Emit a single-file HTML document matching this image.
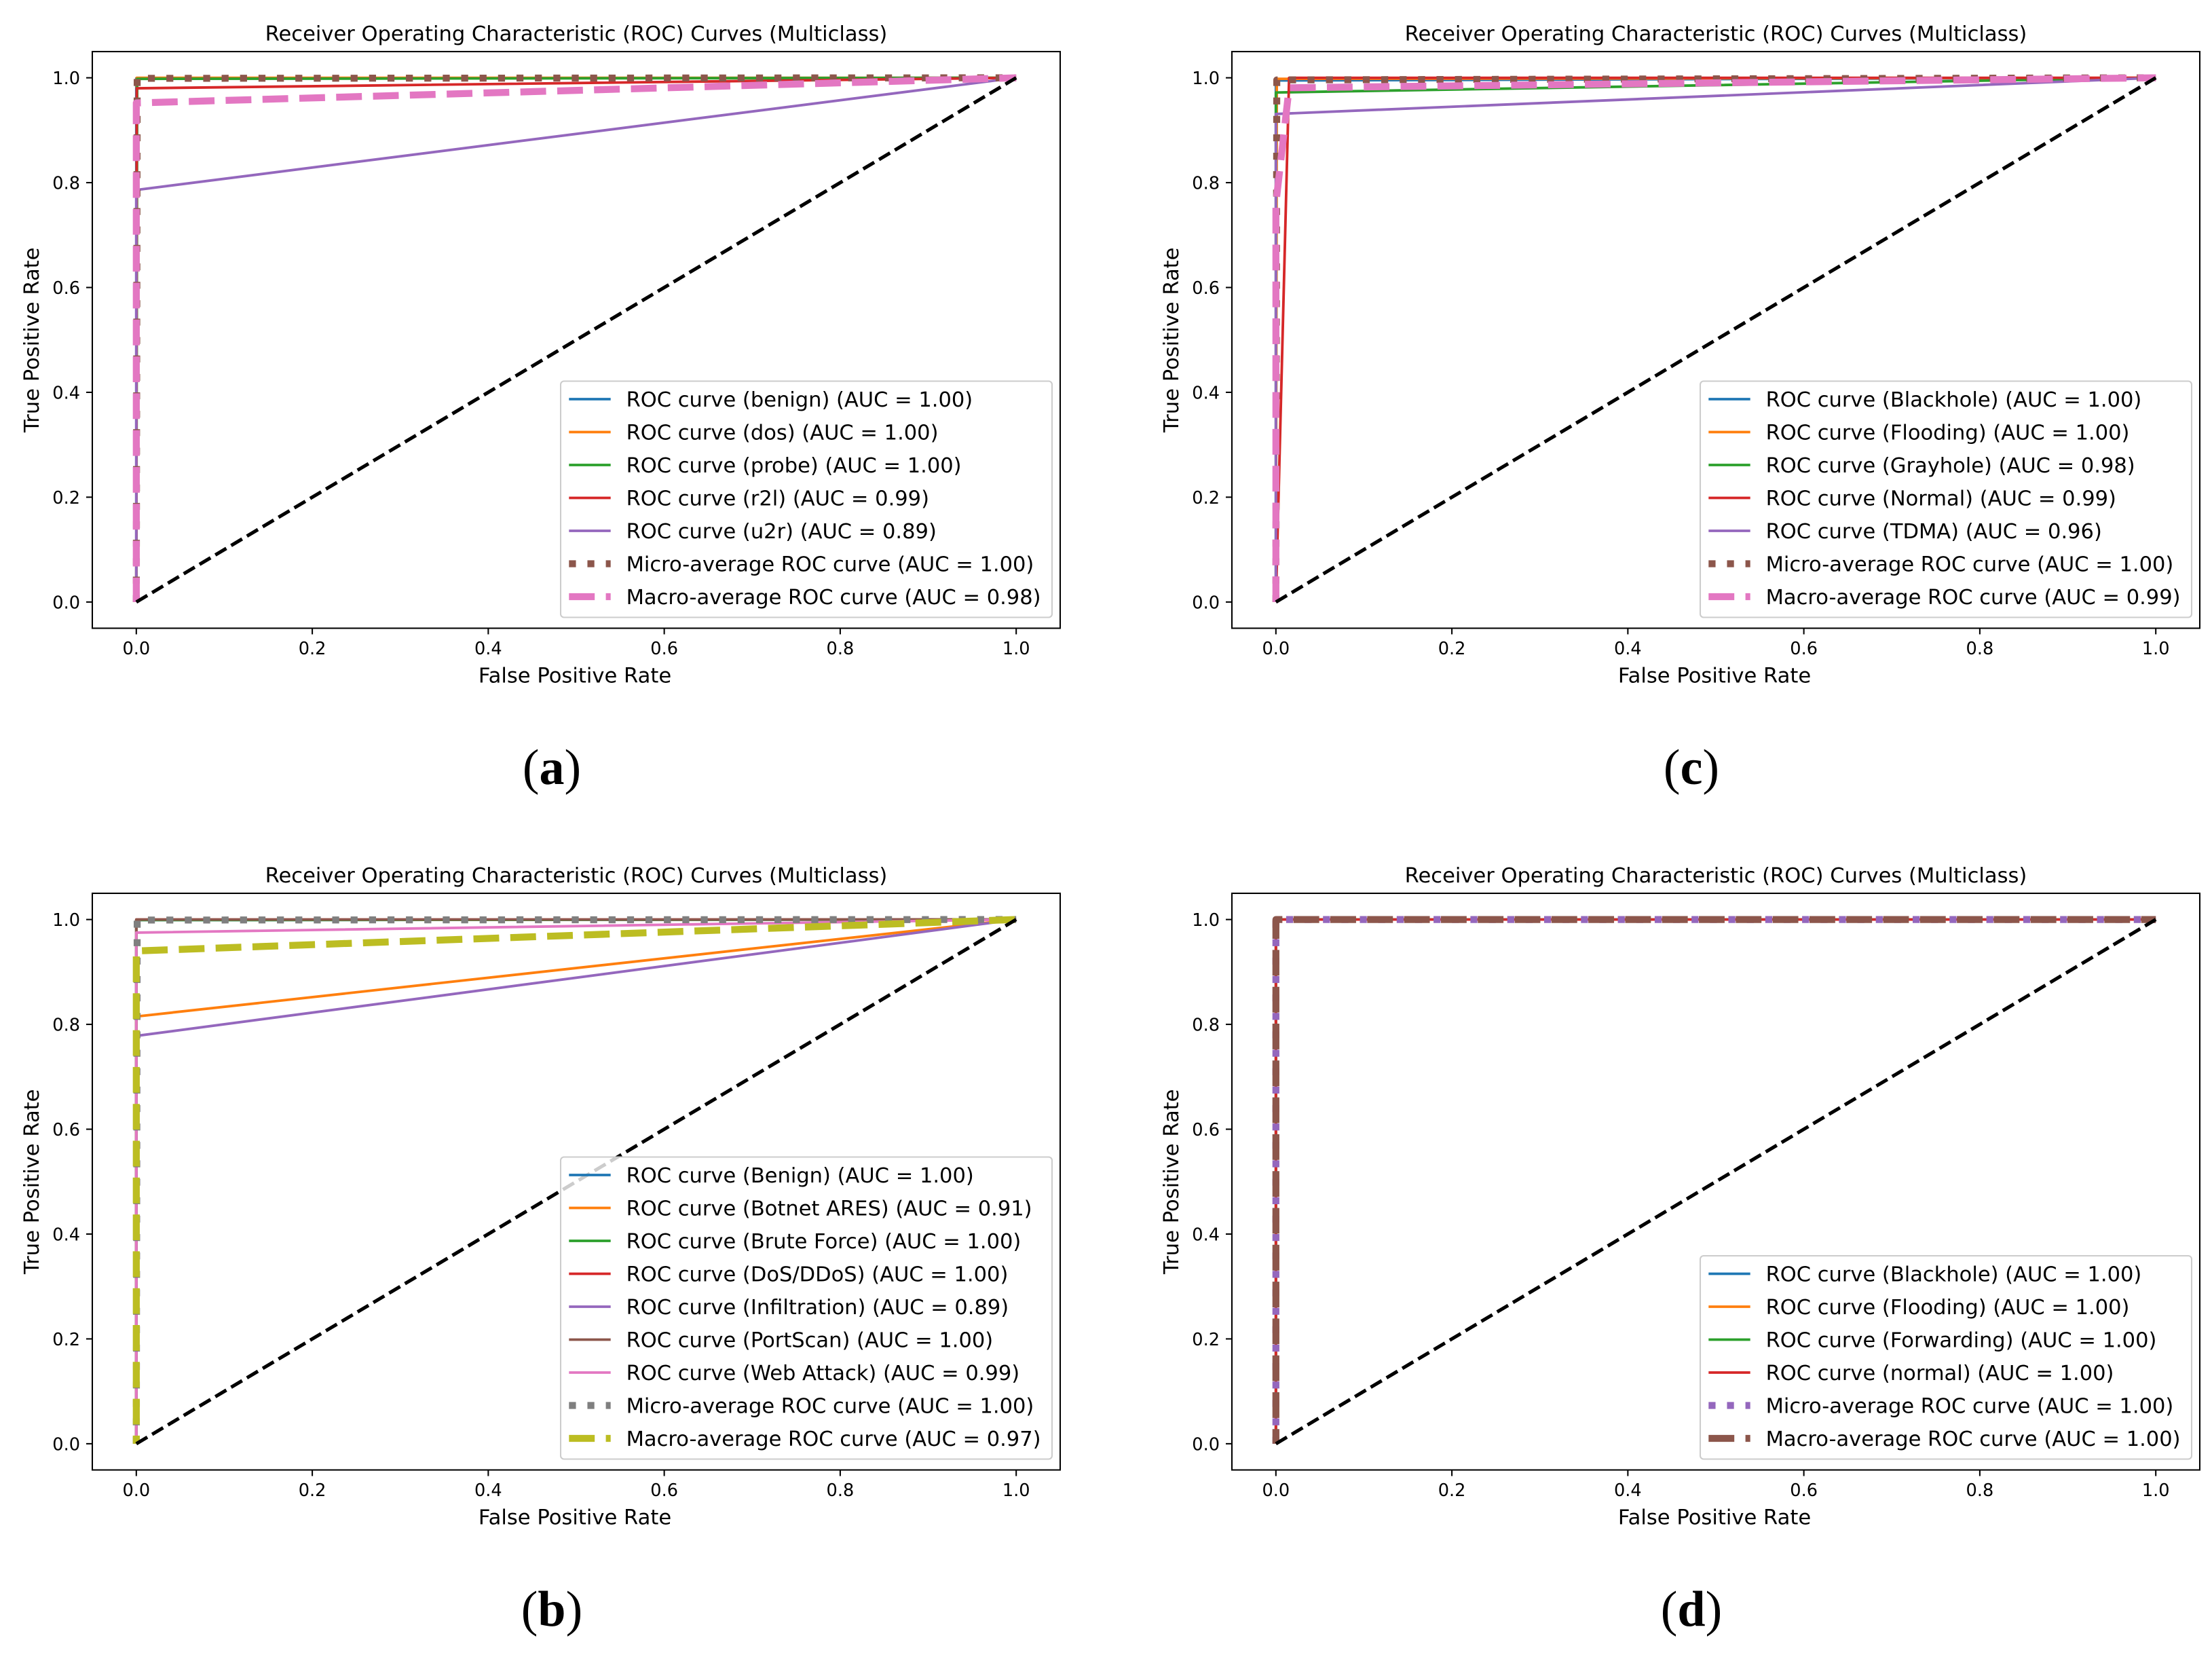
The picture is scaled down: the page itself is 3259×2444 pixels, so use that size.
<!DOCTYPE html>
<html>
<head>
<meta charset="utf-8">
<title>ROC Curves (Multiclass)</title>
<style>
html,body{margin:0;padding:0;background:#fff;}
svg{display:block;}
text{font-family:"DejaVu Sans","Liberation Sans",sans-serif;fill:#000;}
.caption{font-family:"Liberation Serif",serif;font-weight:bold;}
.paren{font-weight:normal;}
</style>
</head>
<body>
<svg id="figure" xmlns="http://www.w3.org/2000/svg" width="3259" height="2444" viewBox="0 0 3259 2444"></svg>
<script>
const xTickValues = [0, 0.2, 0.4, 0.6, 0.8, 1];
const yTickValues = [0, 0.2, 0.4, 0.6, 0.8, 1];
const xTickLabels = ["0.0", "0.2", "0.4", "0.6", "0.8", "1.0"];
const yTickLabels = ["0.0", "0.2", "0.4", "0.6", "0.8", "1.0"];
const chartTitle = "Receiver Operating Characteristic (ROC) Curves (Multiclass)";
const xAxisTitle = "False Positive Rate";
const yAxisTitle = "True Positive Rate";
const diagonalFpr = [0, 1];
const diagonalTpr = [0, 1];

const aNames = ["ROC curve (benign)", "ROC curve (dos)", "ROC curve (probe)", "ROC curve (r2l)", "ROC curve (u2r)", "Micro-average ROC curve", "Macro-average ROC curve"];
const aAuc = ["1.00", "1.00", "1.00", "0.99", "0.89", "1.00", "0.98"];
const aFpr = [[0, 0, 1], [0, 0.0005, 1], [0, 0.001, 1], [0, 0.0005, 1], [0, 0, 1], [0, 0.001, 1], [0, 0, 1]];
const aTpr = [[0, 0.999, 1], [0, 1, 1], [0, 0.998, 1], [0, 0.98, 1], [0, 0.786, 1], [0, 0.999, 1], [0, 0.952, 1]];

const bNames = ["ROC curve (Benign)", "ROC curve (Botnet ARES)", "ROC curve (Brute Force)", "ROC curve (DoS/DDoS)", "ROC curve (Infiltration)", "ROC curve (PortScan)", "ROC curve (Web Attack)", "Micro-average ROC curve", "Macro-average ROC curve"];
const bAuc = ["1.00", "0.91", "1.00", "1.00", "0.89", "1.00", "0.99", "1.00", "0.97"];
const bFpr = [[0, 0, 1], [0, 0, 1], [0, 0, 1], [0, 0, 1], [0, 0, 1], [0, 0, 1], [0, 0, 1], [0, 0.001, 1], [0, 0, 1]];
const bTpr = [[0, 0.999, 1], [0, 0.815, 1], [0, 0.999, 1], [0, 1, 1], [0, 0.778, 1], [0, 1, 1], [0, 0.975, 1], [0, 0.999, 1], [0, 0.94, 1]];

const cNames = ["ROC curve (Blackhole)", "ROC curve (Flooding)", "ROC curve (Grayhole)", "ROC curve (Normal)", "ROC curve (TDMA)", "Micro-average ROC curve", "Macro-average ROC curve"];
const cAuc = ["1.00", "1.00", "0.98", "0.99", "0.96", "1.00", "0.99"];
const cFpr = [[0, 0, 1], [0, 0.001, 1], [0, 0, 1], [0, 0.015, 1], [0, 0, 1], [0, 0.001, 1], [0, 0, 0.015, 1]];
const cTpr = [[0, 0.995, 1], [0, 0.998, 1], [0, 0.972, 1], [0, 1, 1], [0, 0.931, 1], [0, 0.996, 1], [0, 0.76, 0.981, 1]];

const dNames = ["ROC curve (Blackhole)", "ROC curve (Flooding)", "ROC curve (Forwarding)", "ROC curve (normal)", "Micro-average ROC curve", "Macro-average ROC curve"];
const dAuc = ["1.00", "1.00", "1.00", "1.00", "1.00", "1.00"];
const dFpr = [[0, 0, 1], [0, 0, 1], [0, 0, 1], [0, 0, 1], [0, 0, 1], [0, 0, 1]];
const dTpr = [[0, 1, 1], [0, 1, 1], [0, 1, 1], [0, 1, 1], [0, 1, 1], [0, 1, 1]];

const palette = ["#1f77b4", "#ff7f0e", "#2ca02c", "#d62728", "#9467bd", "#8c564b", "#e377c2", "#7f7f7f", "#bcbd22"];
const svgNS = "http://www.w3.org/2000/svg";
const figure = document.getElementById("figure");

function make(parent, tag, attrs, text) {
  const el = document.createElementNS(svgNS, tag);
  for (const k in attrs) el.setAttribute(k, attrs[k]);
  if (text !== undefined) el.textContent = text;
  parent.appendChild(el);
  return el;
}

function drawPanel(key, left, top, names, auc, fprs, tprs, caption, macroPhase) {
  const width = 1426, height = 849.5;
  const xScale = v => left + width * (0.05 + v) / 1.1;
  const yScale = v => top + height - height * (0.05 + v) / 1.1;
  const g = make(figure, "g", {});
  
  

  const dashFor = name => name.startsWith("Micro") ? "10.25 16.9" : name.startsWith("Macro") ? "37.9 16.4" : "none";
  const widthFor = name => /^(Micro|Macro)/.test(name) ? 10.25 : 3.84;

  const clip = make(g, "g", {});
  
  

  names.forEach((name, i) => {
    const pts = fprs[i].map((f, j) => xScale(f).toFixed(2) + "," + yScale(tprs[i][j]).toFixed(2)).join(" ");
    const line = make(clip, "polyline", {points: pts, fill: "none", stroke: palette[i], "stroke-width": widthFor(name), "stroke-dasharray": dashFor(name), "stroke-dashoffset": name.startsWith("Macro") ? macroPhase : 0, "stroke-linejoin": "round"});
    
    
  });

  const diagPts = diagonalFpr.map((f, j) => xScale(f).toFixed(2) + "," + yScale(diagonalTpr[j]).toFixed(2)).join(" ");
  const diag = make(clip, "polyline", {points: diagPts, fill: "none", stroke: "#000", "stroke-width": 5.12, "stroke-dasharray": "18.9 8.2"});
  
  

  const frame = make(g, "rect", {x: left, y: top, width: width, height: height, fill: "none", stroke: "#000", "stroke-width": 2.05});
  
  

  xTickValues.forEach((v, i) => {
    const px = xScale(v);
    const tick = make(g, "line", {x1: px, x2: px, y1: top + height, y2: top + height + 9, stroke: "#000", "stroke-width": 2.05});
    
    
    const label = make(g, "text", {x: px, y: top + height + 38.5, "text-anchor": "middle", "font-size": 25.6}, xTickLabels[i]);
    
    
  });
  yTickValues.forEach((v, i) => {
    const py = yScale(v);
    const tick = make(g, "line", {x1: left - 9, x2: left, y1: py, y2: py, stroke: "#000", "stroke-width": 2.05});
    
    
    const label = make(g, "text", {x: left - 18, y: py + 9.5, "text-anchor": "end", "font-size": 25.6}, yTickLabels[i]);
    
    
  });

  const title = make(g, "text", {x: left + width / 2, y: top - 16, "text-anchor": "middle", "font-size": 30.55}, chartTitle);
  
  

  const xLabel = make(g, "text", {x: left + width / 2 - 2, y: top + height + 80, "text-anchor": "middle", "font-size": 30.6}, xAxisTitle);
  
  

  const yMid = top + height / 2;
  const yLabel = make(g, "text", {x: 0, y: 0, "text-anchor": "middle", "font-size": 30.6, transform: "translate(" + (left - 79) + " " + yMid + ") rotate(-90)"}, yAxisTitle);
  
  

  const legendLeft = left + 690, legendRight = left + 1414;
  const legendBottom = top + height - 16;
  const pitch = 48.5;
  const lastRow = legendBottom - 30;
  const legendTop = lastRow - (names.length - 1) * pitch - 27;
  const legend = make(g, "g", {});
  
  
  const box = make(legend, "rect", {x: legendLeft, y: legendTop, width: legendRight - legendLeft, height: legendBottom - legendTop, rx: 5, ry: 5, fill: "rgba(255,255,255,0.8)", stroke: "#cccccc", "stroke-width": 2.05});
  
  
  names.forEach((name, i) => {
    const ry = lastRow - (names.length - 1 - i) * pitch;
    const handle = make(legend, "line", {x1: legendLeft + 12.3, x2: legendLeft + 73.7, y1: ry - 0.5, y2: ry - 0.5, stroke: palette[i], "stroke-width": widthFor(name), "stroke-dasharray": dashFor(name)});
    
    
    const entry = make(legend, "text", {x: legendLeft + 96.6, y: ry + 10.5, "font-size": 30.5}, name + " (AUC = " + auc[i] + ")");
    
    
  });

  const cap = make(g, "text", {x: left + 677, y: top + 1079, "text-anchor": "middle", "font-size": 74, class: "caption"});
  
  
  make(cap, "tspan", {class: "paren"}, "(");
  make(cap, "tspan", {}, caption);
  make(cap, "tspan", {class: "paren"}, ")");
}

drawPanel("a", 136, 76, aNames, aAuc, aFpr, aTpr, "a", 1.9);
drawPanel("c", 1815, 76, cNames, cAuc, cFpr, cTpr, "c", 0.1);
drawPanel("b", 136, 1316, bNames, bAuc, bFpr, bTpr, "b", 25.9);
drawPanel("d", 1815, 1316, dNames, dAuc, dFpr, dTpr, "d", 16.3);
</script>
</body>
</html>
